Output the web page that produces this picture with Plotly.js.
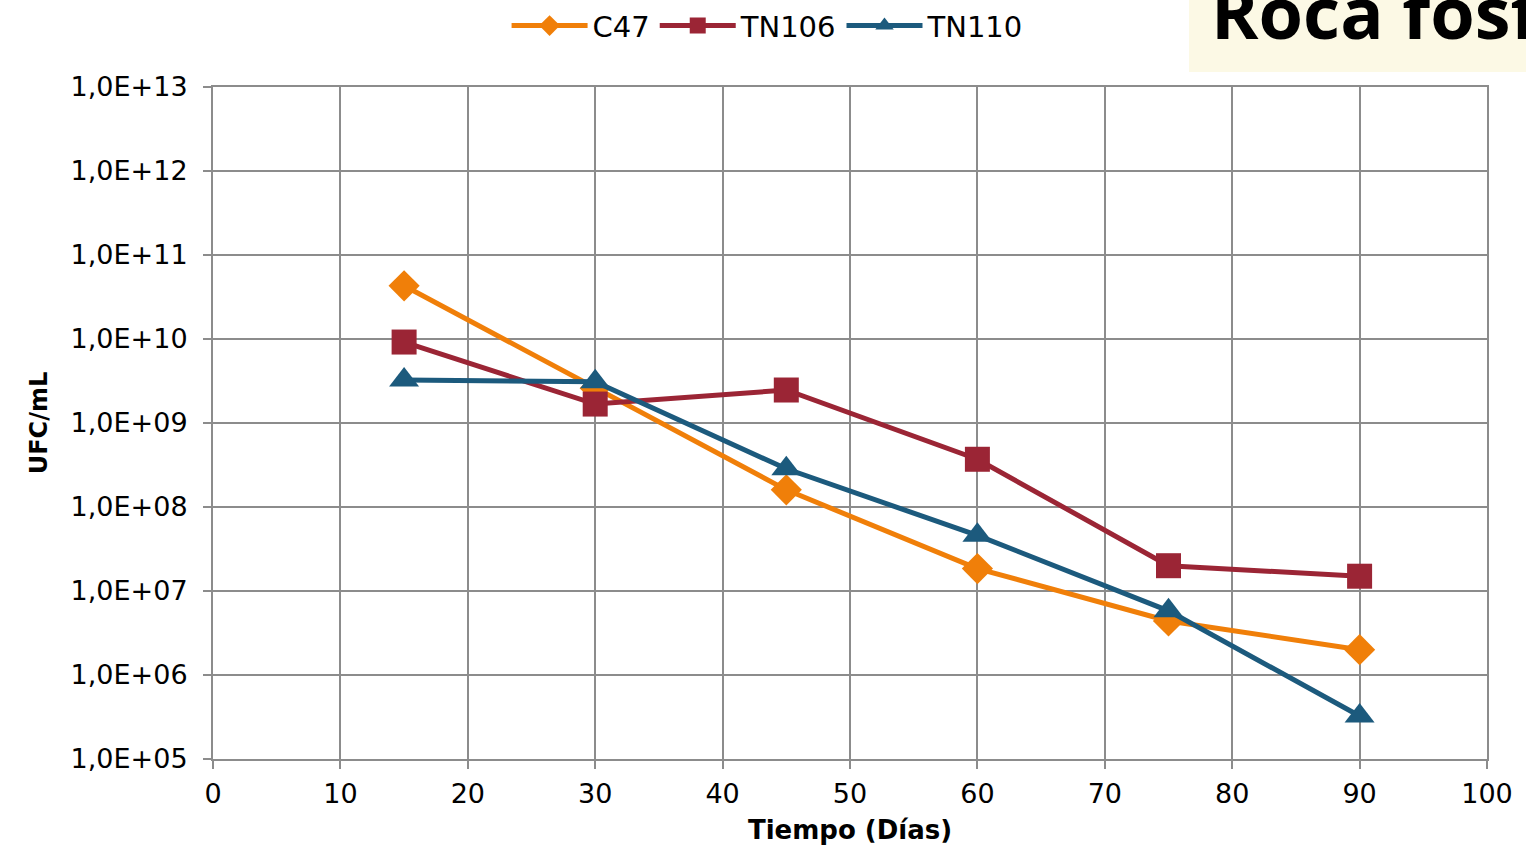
<!DOCTYPE html>
<html>
<head>
<meta charset="utf-8">
<script src="https://cdn.plot.ly/plotly-3.0.1.min.js"></script>
<style>html,body{margin:0;padding:0;background:#fff;}#chart{width:1526px;height:857px;}</style>
</head>
<body>
<div id="chart"></div>
<script>
const days = [15, 30, 45, 60, 75, 90];
const c47 = [4.3e10, 2.6e9, 1.6e8, 1.85e7, 4.4e6, 2.0e6];
const tn106 = [9.2e9, 1.68e9, 2.47e9, 3.7e8, 2.0e7, 1.5e7];
const tn110 = [3.25e9, 3.1e9, 2.85e8, 4.6e7, 5.8e6, 3.25e5];
const xTickVals = [0, 10, 20, 30, 40, 50, 60, 70, 80, 90, 100];
const yTickVals = [1e5, 1e6, 1e7, 1e8, 1e9, 1e10, 1e11, 1e12, 1e13];
const yTickText = ["1,0E+05","1,0E+06","1,0E+07","1,0E+08","1,0E+09","1,0E+10","1,0E+11","1,0E+12","1,0E+13"];

const traces = [
  {x: days, y: c47, name: "C47", mode: "lines+markers",
   line: {color: "#F07F09", width: 5},
   marker: {symbol: "diamond", size: 24, color: "#F07F09"}},
  {x: days, y: tn106, name: "TN106", mode: "lines+markers",
   line: {color: "#9B2535", width: 5},
   marker: {symbol: "square", size: 25, color: "#9B2535"}},
  {x: days, y: tn110, name: "TN110", mode: "lines+markers",
   line: {color: "#1C5A7D", width: 5},
   marker: {symbol: "triangle-up", size: 26, color: "#1C5A7D"}}
];

const grid = "#8C8C8C";
const layout = {
  width: 1526, height: 857,
  margin: {l: 213, r: 39, t: 87, b: 98},
  paper_bgcolor: "#fff", plot_bgcolor: "#fff",
  font: {family: "DejaVu Sans, sans-serif", color: "#000", size: 27},
  showlegend: true,
  legend: {orientation: "h", xref: "container", x: 0.503, xanchor: "center",
           yref: "container", y: 0.97, yanchor: "middle",
           font: {size: 29}, itemwidth: 76, tracegroupgap: 0},
  xaxis: {
    range: [0, 100], tickvals: xTickVals,
    showgrid: true, gridcolor: grid, gridwidth: 2,
    zeroline: false, showline: true, linecolor: grid, linewidth: 2, mirror: true,
    ticks: "outside", ticklen: 8, tickcolor: grid, tickwidth: 2,
    tickfont: {size: 27}, ticklabelstandoff: 2,
    title: {text: "<b>Tiempo (Días)</b>", font: {size: 26}, standoff: 12}
  },
  yaxis: {
    type: "log", range: [5, 13], tickvals: yTickVals, ticktext: yTickText,
    showgrid: true, gridcolor: grid, gridwidth: 2,
    zeroline: false, showline: true, linecolor: grid, linewidth: 2, mirror: true,
    ticks: "outside", ticklen: 8, tickcolor: grid, tickwidth: 2,
    tickfont: {size: 27}, ticklabelstandoff: 10,
    title: {text: "<b>UFC/mL</b>", font: {size: 24}, standoff: 16}
  }
};

Plotly.newPlot("chart", traces, layout, {displayModeBar: false, staticPlot: true});
</script>
<div style="position:absolute;left:1189px;top:0;width:337px;height:72px;background:#FCF9E5;overflow:hidden;">
  <div style="position:absolute;left:22px;top:-25px;font-family:'Open Sans','Liberation Sans',sans-serif;font-weight:bold;font-size:72px;line-height:72px;color:#000;white-space:nowrap;">Roca fosf</div>
</div>
</body>
</html>
